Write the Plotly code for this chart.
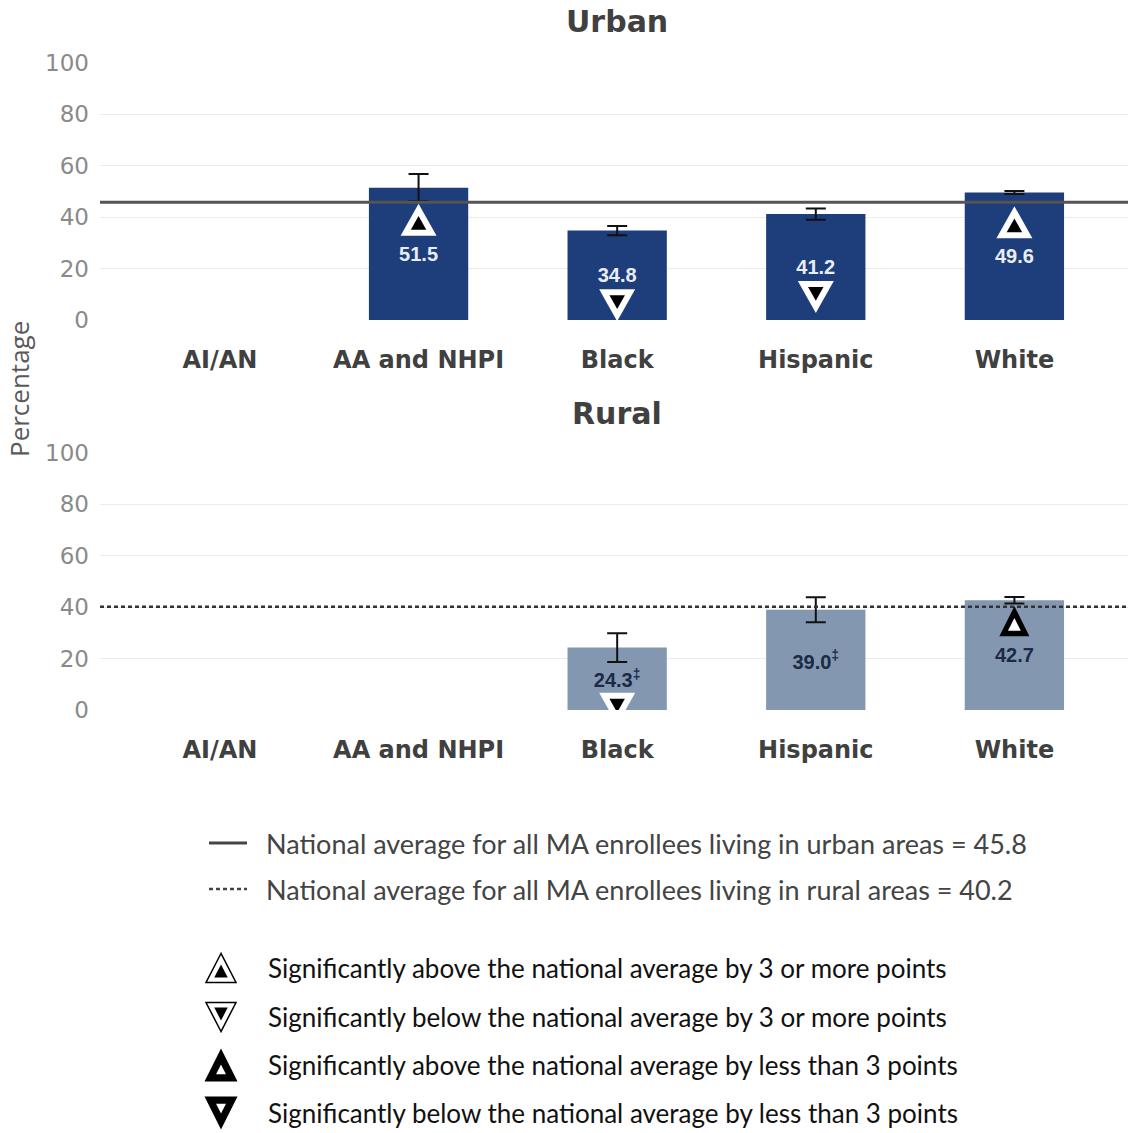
import math
import plotly.graph_objects as go

# ---------------- data ----------------
categories = ["AI/AN", "AA and NHPI", "Black", "Hispanic", "White"]

urban_values = [None, 51.5, 34.8, 41.2, 49.6]
urban_errors = [None, 5.3, 1.8, 2.2, 0.6]
urban_signif = [None, "up3", "down3", "down3", "up3"]
urban_notes = ["", "", "", "", ""]
urban_national = 45.8

rural_values = [None, None, 24.3, 39.0, 42.7]
rural_errors = [None, None, 5.6, 4.9, 1.3]
rural_signif = [None, None, "down3", None, "up"]
rural_notes = ["", "", "‡", "‡", ""]
rural_national = 40.2

y_ticks = [0, 20, 40, 60, 80, 100]

legend_line_texts = [
    "National average for all MA enrollees living in urban areas = 45.8",
    "National average for all MA enrollees living in rural areas = 40.2",
]
legend_symbol_texts = [
    "Significantly above the national average by 3 or more points",
    "Significantly below the national average by 3 or more points",
    "Significantly above the national average by less than 3 points",
    "Significantly below the national average by less than 3 points",
]

# ---------------- styles ----------------
W, H = 1128, 1133
URBAN_COLOR = "#1e3d7b"
RURAL_COLOR = "#8497b0"
GRID = "#ebebeb"
DARK = "#404040"


def px(xp):
    return xp / W


def py(yp):
    return 1 - yp / H


def tri_path(w, h, up=True, k=1.0, dy=0.0):
    L = math.hypot(w / 2, h)
    r = (w * h / 2) / ((w + 2 * L) / 2)
    cy = -h / 2 + r
    pts = [(0, h / 2), (-w / 2, -h / 2), (w / 2, -h / 2)]
    pts = [(k * x, cy + k * (y - cy)) for x, y in pts]
    if not up:
        pts = [(x, -y) for x, y in pts]
    pts = [(x, y + dy) for x, y in pts]
    return "M{:.2f},{:.2f} L{:.2f},{:.2f} L{:.2f},{:.2f} Z".format(*[c for p in pts for c in p])


def tri_shape(xref, yref, xa, ya, w, h, up, k, dy, fill, line_color=None, line_width=0):
    return dict(
        type="path", xref=xref, yref=yref,
        xsizemode="pixel", ysizemode="pixel", xanchor=xa, yanchor=ya,
        path=tri_path(w, h, up, k, dy), fillcolor=fill,
        line=dict(color=line_color or fill, width=line_width),
        layer="above",
    )


idx = list(range(len(categories)))

fig = go.Figure()


def add_panel(values, errors, notes, color, text_color, xa, ya):
    xs, ys, es, texts = [], [], [], []
    for i, (v, e, n) in enumerate(zip(values, errors, notes)):
        if v is None:
            continue
        xs.append(i)
        ys.append(v)
        es.append(e)
        texts.append(f"{v:.1f}" + (f"<sup>{n}</sup>" if n else ""))
    fig.add_trace(go.Bar(
        x=xs, y=ys, width=0.5, marker=dict(color=color, line=dict(width=0)),
        text=texts, textposition="inside", insidetextanchor="middle", textangle=0,
        textfont=dict(family="Liberation Sans", size=20, color=text_color, weight="bold"),
        error_y=dict(type="data", array=es, visible=True, color="#111111", thickness=2, width=10),
        xaxis=xa, yaxis=ya, showlegend=False, hoverinfo="skip",
    ))


add_panel(urban_values, urban_errors, urban_notes, URBAN_COLOR, "#e8eef8", "x", "y")
add_panel(rural_values, rural_errors, rural_notes, RURAL_COLOR, "#1c2a45", "x2", "y2")

shapes = []
# national average lines
shapes.append(dict(type="line", xref="x domain", yref="y", x0=0, x1=1,
                   y0=urban_national, y1=urban_national, line=dict(color="#555555", width=3)))
shapes.append(dict(type="line", xref="x2 domain", yref="y2", x0=0, x1=1,
                   y0=rural_national, y1=rural_national,
                   line=dict(color="#333333", width=2.5, dash="4px,3px")))


def add_markers(values, signif, xref, yref):
    for i, (v, s) in enumerate(zip(values, signif)):
        if v is None or s is None:
            continue
        mid = v / 2
        if s == "up3":
            shapes.append(tri_shape(xref, yref, i, mid, 36, 32, True, 1.0, 34, "white"))
            shapes.append(tri_shape(xref, yref, i, mid, 36, 32, True, 0.43, 34, "black"))
        elif s == "down3":
            shapes.append(tri_shape(xref, yref, i, mid, 36, 32, False, 1.0, -30, "white"))
            shapes.append(tri_shape(xref, yref, i, mid, 36, 32, False, 0.43, -30, "black"))
        elif s == "up":
            shapes.append(tri_shape(xref, yref, i, mid, 30, 30, True, 1.0, 34, "black"))
            shapes.append(tri_shape(xref, yref, i, mid, 30, 30, True, 0.43, 34, "white"))
        elif s == "down":
            shapes.append(tri_shape(xref, yref, i, mid, 30, 30, False, 1.0, -30, "black"))
            shapes.append(tri_shape(xref, yref, i, mid, 30, 30, False, 0.43, -30, "white"))


add_markers(urban_values, urban_signif, "x", "y")
add_markers(rural_values, rural_signif, "x2", "y2")

annotations = []
# panel titles
for title, yp in [("Urban", 22), ("Rural", 413)]:
    annotations.append(dict(text=title, xref="paper", yref="paper", x=px(617), y=py(yp),
                            xanchor="center", yanchor="middle", showarrow=False,
                            font=dict(family="DejaVu Sans", size=30, color=DARK, weight="bold")))
# y-axis title
annotations.append(dict(text="Percentage", xref="paper", yref="paper", x=px(19), y=py(389),
                        xanchor="center", yanchor="middle", showarrow=False, textangle=-90,
                        font=dict(family="Open Sans", size=26, color="#595959")))

# line legend
line_rows = [843, 889]
shapes.append(dict(type="line", xref="paper", yref="paper", x0=px(209), x1=px(247),
                   y0=py(line_rows[0]), y1=py(line_rows[0]), line=dict(color="#444444", width=3)))
shapes.append(dict(type="line", xref="paper", yref="paper", x0=px(209), x1=px(247),
                   y0=py(line_rows[1]), y1=py(line_rows[1]),
                   line=dict(color="#444444", width=2.5, dash="4px,3px")))
for t, yp in zip(legend_line_texts, line_rows):
    annotations.append(dict(text=t, xref="paper", yref="paper", x=px(264), y=py(yp),
                            xanchor="left", yanchor="middle", showarrow=False,
                            font=dict(family="Lato", size=27, color="#444444")))

# symbol legend
sym_rows = [968, 1017, 1065, 1113]
gx = px(221)
shapes.append(tri_shape("paper", "paper", gx, py(sym_rows[0]), 30, 29, True, 1.0, 0, "white", "black", 1.5))
shapes.append(tri_shape("paper", "paper", gx, py(sym_rows[0]), 30, 29, True, 0.45, 0, "black"))
shapes.append(tri_shape("paper", "paper", gx, py(sym_rows[1]), 30, 29, False, 1.0, 0, "white", "black", 1.5))
shapes.append(tri_shape("paper", "paper", gx, py(sym_rows[1]), 30, 29, False, 0.45, 0, "black"))
shapes.append(tri_shape("paper", "paper", gx, py(sym_rows[2]), 33, 33, True, 1.0, 0, "black"))
shapes.append(tri_shape("paper", "paper", gx, py(sym_rows[2]), 33, 33, True, 0.3, 0, "white"))
shapes.append(tri_shape("paper", "paper", gx, py(sym_rows[3]), 33, 33, False, 1.0, 0, "black"))
shapes.append(tri_shape("paper", "paper", gx, py(sym_rows[3]), 33, 33, False, 0.3, 0, "white"))
for t, yp in zip(legend_symbol_texts, sym_rows):
    annotations.append(dict(text=t, xref="paper", yref="paper", x=px(266), y=py(yp),
                            xanchor="left", yanchor="middle", showarrow=False,
                            font=dict(family="Lato", size=26, color="#111111")))

# x range: category centres at 220 + 198.7*i px, axis spanning 100..1128 px
x_common = dict(
    range=[-0.604, 4.572], tickmode="array", tickvals=idx, ticktext=categories,
    tickfont=dict(family="DejaVu Sans", size=24, color=DARK, weight="bold"),
    showgrid=False, zeroline=False, showline=False, ticks="", ticklabelstandoff=23,
    domain=[px(100), 1.0], fixedrange=True, automargin=False,
)
y_common = dict(
    range=[0, 100], tickmode="array", tickvals=y_ticks,
    tickfont=dict(family="DejaVu Sans", size=23, color="#8a8a8a"),
    showgrid=True, gridcolor=GRID, gridwidth=1, zeroline=False, showline=False,
    ticks="", ticklabelstandoff=10, fixedrange=True, automargin=False,
)

fig.update_layout(
    width=W, height=H, margin=dict(l=0, r=0, t=0, b=0, pad=0, autoexpand=False),
    paper_bgcolor="white", plot_bgcolor="white",
    xaxis=dict(**x_common, anchor="y"),
    yaxis=dict(**y_common, domain=[py(320), py(63)], anchor="x"),
    xaxis2=dict(**x_common, anchor="y2"),
    yaxis2=dict(**y_common, domain=[py(710), py(453)], anchor="x2"),
    shapes=shapes, annotations=annotations, showlegend=False,
    bargap=0.5,
)

# remove the browser's default 8px body margin so the figure fills the window exactly
fig.write_html(
    "out.html",
    config={"displayModeBar": False},
    post_script="document.body.style.margin='0';document.body.style.overflow='hidden';",
)
